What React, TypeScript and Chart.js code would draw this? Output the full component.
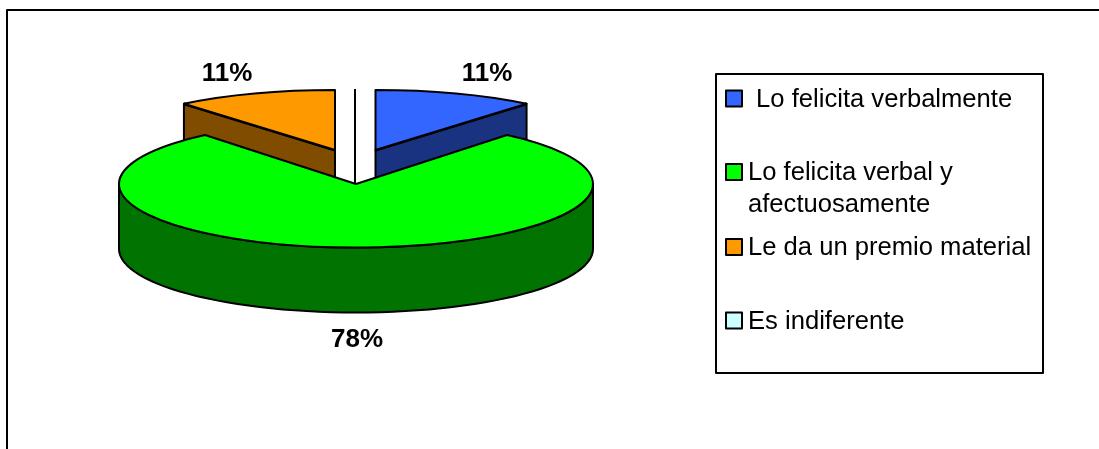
import React, { useEffect, useRef } from "react";
import { Chart, registerables } from "chart.js";

Chart.register(...registerables);

const categories = ["Lo felicita verbalmente", "Lo felicita verbal y afectuosamente", "Le da un premio material", "Es indiferente"];
const values = [11, 78, 11, 0];
const topColors = ["#3366FF", "#00FF00", "#FF9900", "#CCFFFF"];
const sideColors = ["#1A3380", "#007300", "#804D00", "#668080"];
const percentLabels = ["11%", "78%", "11%"];
const legendLines = [[" Lo felicita verbalmente"], ["Lo felicita verbal y", "afectuosamente"], ["Le da un premio material"], ["Es indiferente"]];

const CX = 356, CY = 184, RX = 237, DEPTH = 65;
const radiusY = [60, 63.5, 60, 95];
const explode = [[19.5, -34], [0, 0], [-21, -34], [-1, 0]];
const labelPos = [[487, 74], [357, 340], [227, 74]];
const legendY = [98.5, 172, 247, 320.5];
const legendTextY = [99.5, 173, 248, 321.5];
const legendTextX = [749, 748, 748, 748];

const pie3d = {
  id: "pie3d",
  beforeDatasetsDraw(chart: any) {
    const ctx = chart.ctx;
    const arcs = chart.getDatasetMeta(0).data;
    const drawSlice = (i: number) => {
      const k = radiusY[i] / RX;
      const pt = (a: number, r: number, d = 0) => [
        CX + explode[i][0] + Math.cos(a) * r,
        CY + explode[i][1] + Math.sin(a) * r * k + d,
      ];
      const arc = arcs[i];
      const { startAngle: s, endAngle: e, outerRadius: r } = arc;
      const ap = pt(0, 0);
      ctx.lineJoin = "round";
      ctx.strokeStyle = "#000";
      ctx.lineWidth = 2;
      if (e > s) {
        ctx.fillStyle = sideColors[i];
        // straight wall(s) that face the viewer
        for (const a of [s, e]) {
          const c = Math.cos(a);
          const faces = (a === s && c < 0) || (a === e && c > 0);
          if (!faces || Math.abs(c) < 1e-6) continue;
          const rim = pt(a, r);
          ctx.beginPath();
          ctx.moveTo(ap[0], ap[1]);
          ctx.lineTo(rim[0], rim[1]);
          ctx.lineTo(rim[0], rim[1] + DEPTH);
          ctx.lineTo(ap[0], ap[1] + DEPTH);
          ctx.closePath();
          ctx.fill();
          ctx.stroke();
          // heavy upper edge of the wall
          ctx.save();
          ctx.lineWidth = 3;
          ctx.beginPath();
          ctx.moveTo(ap[0], ap[1]);
          ctx.lineTo(rim[0], rim[1]);
          ctx.stroke();
          ctx.restore();
        }
        // curved wall, front half only
        const from = Math.max(s, 0), to = Math.min(e, Math.PI);
        if (to > from) {
          ctx.beginPath();
          for (let t = 0; t <= 60; t++) {
            const q = pt(from + ((to - from) * t) / 60, r);
            t ? ctx.lineTo(q[0], q[1]) : ctx.moveTo(q[0], q[1]);
          }
          for (let t = 60; t >= 0; t--) {
            const q = pt(from + ((to - from) * t) / 60, r, DEPTH);
            ctx.lineTo(q[0], q[1]);
          }
          ctx.closePath();
          ctx.fill();
          ctx.stroke();
        }
        // top face, filled by the library's arc element
        ctx.save();
        ctx.translate(CX + explode[i][0], CY + explode[i][1]);
        ctx.scale(1, k);
        ctx.translate(-arc.x, -arc.y);
        arc.draw(ctx);
        ctx.restore();
      }
      // outline
      ctx.beginPath();
      ctx.moveTo(ap[0], ap[1]);
      if (e > s) {
        ctx.ellipse(ap[0], ap[1], r, r * k, 0, s, e);
        ctx.closePath();
      } else {
        const rim = pt(s, r);
        ctx.lineTo(rim[0], rim[1]);
      }
      ctx.stroke();
    };
    [3, 2, 0, 1].forEach(drawSlice);
    return false;
  },
  afterDraw(chart: any) {
    const ctx = chart.ctx;
    ctx.save();
    // outer frame: top and left only, running off the picture
    ctx.strokeStyle = "#000";
    ctx.lineWidth = 2;
    ctx.beginPath();
    ctx.moveTo(7, 449);
    ctx.lineTo(7, 10);
    ctx.lineTo(1099, 10);
    ctx.stroke();
    // percentages
    ctx.fillStyle = "#000";
    ctx.font = "bold 26px 'Liberation Sans'";
    ctx.textAlign = "center";
    ctx.textBaseline = "middle";
    percentLabels.forEach((t, i) => ctx.fillText(t, labelPos[i][0], labelPos[i][1]));
    // legend
    ctx.lineWidth = 2;
    ctx.lineJoin = "round";
    ctx.strokeRect(716, 74, 327, 299);
    ctx.font = "25.6px 'Liberation Sans'";
    ctx.textAlign = "left";
    categories.forEach((_, i) => {
      ctx.fillStyle = topColors[i];
      ctx.fillRect(726, legendY[i] - 8, 16, 16);
      ctx.strokeRect(726, legendY[i] - 8, 16, 16);
      ctx.fillStyle = "#000";
      legendLines[i].forEach((l, j) => ctx.fillText(l, legendTextX[i], legendTextY[i] + j * 32));
    });
    ctx.restore();
  },
};

export default function App() {
  const ref = useRef<HTMLCanvasElement>(null);
  useEffect(() => {
    document.body.style.margin = "0";
    document.body.style.background = "#fff";
    const chart = new Chart(ref.current!, {
      type: "pie",
      data: {
        labels: categories,
        datasets: [{ data: values, backgroundColor: topColors, borderWidth: 0 }],
      },
      options: {
        animation: false,
        responsive: false,
        devicePixelRatio: 1,
        radius: RX,
        layout: { padding: 0 },
        plugins: { legend: { display: false }, tooltip: { enabled: false }, title: { display: false } },
      } as any,
      plugins: [pie3d],
    });
    return () => chart.destroy();
  }, []);
  return <canvas ref={ref} width={1099} height={449} style={{ display: "block" }} />;
}
